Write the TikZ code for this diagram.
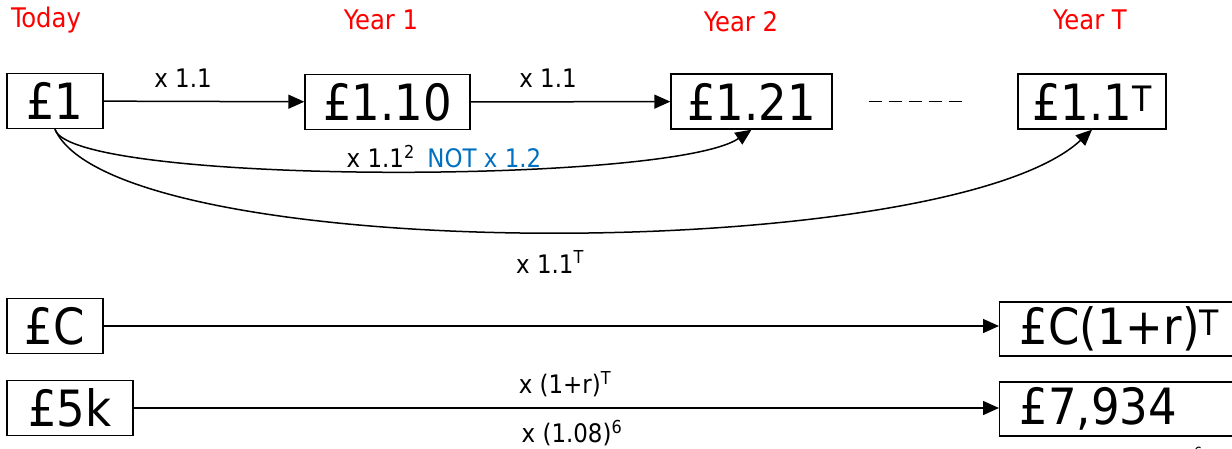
\documentclass[tikz,border=0pt]{standalone}
\usepackage{fontspec}
\setmainfont{DejaVu Sans Condensed}
\usetikzlibrary{arrows.meta}
\definecolor{notblue}{RGB}{0,112,192}
\begin{document}
\begin{tikzpicture}[x=1pt,y=-1pt,
  money/.style={draw,line width=1.4pt,minimum height=55pt,inner sep=0pt,font=\fontsize{50}{54}\selectfont},
  rbox/.style={draw,line width=1.4pt,minimum height=54pt,anchor=west,inner xsep=20pt,inner ysep=0pt,text width=240pt,align=left,font=\fontsize{50}{54}\selectfont},
  yearlbl/.style={text=red,font=\fontsize{27}{30}\selectfont},
  lbl/.style={font=\fontsize{25.5}{29}\selectfont},
  conn/.style={line width=1.5pt,-{Triangle[length=16pt,width=14pt]}}
]
\useasboundingbox (0,0) rectangle (1232,448);
\clip (0,0) rectangle (1232,448);

% year labels
\node[yearlbl] (today) at (46,20) {Today};
\node[yearlbl] (y1) at (381,20) {Year 1};
\node[yearlbl] (y2) at (741,22) {Year 2};
\node[yearlbl] (yT) at (1090,20) {Year T};

% top row boxes
\node[money,minimum width=96pt] (b1) at (55,101) {£1};
\node[money,minimum width=165pt] (b2) at (387.5,102) {£1.10};
\node[money,minimum width=161pt] (b3) at (751.5,101.5) {£1.21};
\node[money,minimum width=148pt] (bT) at (1092,101.5) {£1.1\textsuperscript{T}};

\draw[conn] (b1) -- (b2);
\draw[conn] (b2) -- (b3);
\node[lbl] (l1) at (183,78) {x 1.1};
\node[lbl] (l2) at (548,78) {x 1.1};

\draw[line width=1.3pt,dash pattern=on 13pt off 7pt] ([xshift=36pt]b3.east) -- ([xshift=-55pt]bT.west);

% curved arrows
\draw[conn] (b1.south) .. controls (70,185) and (670,185) .. (b3.south);
\node[lbl] (l3) at (444,157) {x 1.1\textsuperscript{2}\hspace{0.5em}\textcolor{notblue}{NOT x 1.2}};
\draw[conn] (b1.south) .. controls (115,266) and (945,266) .. (bT.south);
\node[lbl] (l4) at (550,262) {x 1.1\textsuperscript{T}};

% lower rows
\node[money,minimum width=96pt] (bC) at (55,326) {£C};
\node[rbox] (bCT) at (999,329) {£C(1+r)\textsuperscript{T}};
\draw[conn] (bC.east) -- (bCT.west |- bC.east);
\node[lbl] (l5) at (565,384) {x (1+r)\textsuperscript{T}};

\node[money,minimum width=126pt] (b5) at (70,408) {£5k};
\node[rbox] (b79) at (999,409) {£7,934};
\draw[conn] (b5.east) -- (b79.west |- b5.east);
\node[lbl] (l6) at (572,433) {x (1.08)\textsuperscript{6}};
\node[font=\fontsize{14}{16}\selectfont] (l7) at (1198,452) {6};
\end{tikzpicture}
\end{document}
